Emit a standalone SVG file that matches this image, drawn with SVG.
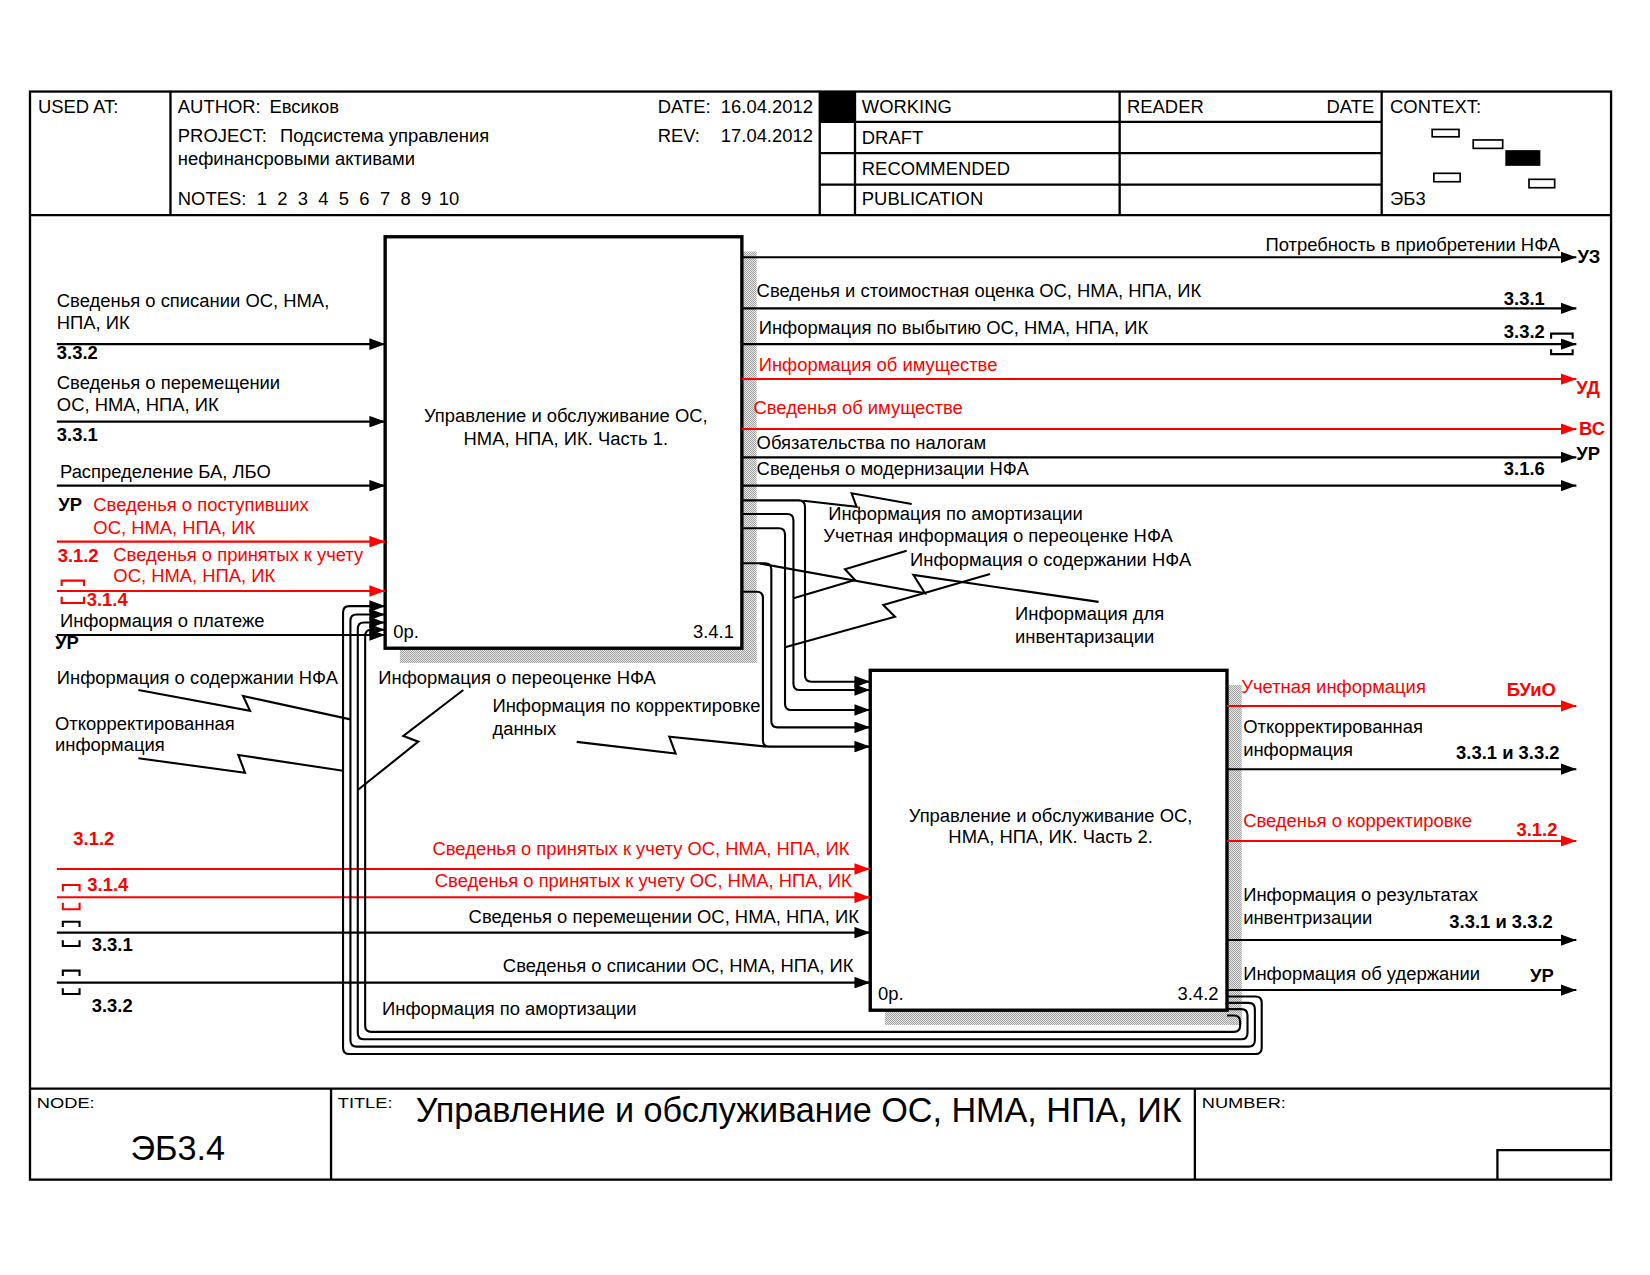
<svg xmlns="http://www.w3.org/2000/svg" width="1650" height="1275" viewBox="0 0 1650 1275">
<style>
.t{font-family:"Liberation Sans",Arial,sans-serif;font-size:17.5px;fill:#000}
.r{fill:#f00}
.b{font-weight:bold}
.e{text-anchor:end}
.m{text-anchor:middle}
.ln{fill:none;stroke:#000;stroke-width:2}
.lr{fill:none;stroke:#f00;stroke-width:2}
.fr{fill:none;stroke:#000;stroke-width:2.2}
.bx{fill:#fff;stroke:#000;stroke-width:3.2}
.sh{fill:url(#sh)}
.ma{marker-end:url(#ab)}
.mr{marker-end:url(#ar)}
.sm{font-family:"Liberation Sans",Arial,sans-serif;font-size:14px;fill:#000}
</style>
<defs>
<marker id="ab" viewBox="0 0 15 11" refX="15" refY="5.5" markerWidth="15" markerHeight="11" markerUnits="userSpaceOnUse" orient="auto"><path d="M0,0L15,5.5L0,11z" fill="#000"/></marker>
<marker id="ar" viewBox="0 0 15 11" refX="15" refY="5.5" markerWidth="15" markerHeight="11" markerUnits="userSpaceOnUse" orient="auto"><path d="M0,0L15,5.5L0,11z" fill="#f00"/></marker>
<pattern id="sh" width="2" height="2" patternUnits="userSpaceOnUse" patternTransform="scale(0.9503)"><rect width="2" height="2" fill="#fff"/><rect width="1" height="1" fill="#888"/><rect x="1" y="1" width="1" height="1" fill="#888"/></pattern>
</defs>
<rect width="1650" height="1275" fill="#fff"/>
<g transform="scale(1.0523)">
<g id="frame">
<rect class="fr" x="28.5" y="87" width="1502.5" height="1034"/>
<path class="fr" d="M28.5,204.5H1531M162,87V204.5M779,87V204.5M812.5,87V204.5M1064,87V204.5M1313,87V204.5M779,115.8H1313M779,145.5H1313M779,175.5H1313"/>
<rect x="779" y="87" width="33.5" height="28.8" fill="#000"/>
<path class="fr" d="M28.5,1034.5H1531M314.6,1034.5V1121M1135.5,1034.5V1121M1423,1121V1093H1531"/>
<text class="t" x="36" y="107">USED AT:</text>
<text class="t" x="169" y="107">AUTHOR:</text>
<text class="t" x="256" y="107">Евсиков</text>
<text class="t" x="625" y="107">DATE:</text>
<text class="t" x="685" y="107">16.04.2012</text>
<text class="t" x="169" y="135">PROJECT:</text>
<text class="t" x="266" y="135">Подсистема управления</text>
<text class="t" x="169" y="157">нефинансровыми активами</text>
<text class="t" x="625" y="135">REV:</text>
<text class="t" x="685" y="135">17.04.2012</text>
<text class="t" x="169" y="195">NOTES:<tspan x="244">1</tspan><tspan x="263.5">2</tspan><tspan x="283">3</tspan><tspan x="302.5">4</tspan><tspan x="322">5</tspan><tspan x="341.5">6</tspan><tspan x="361">7</tspan><tspan x="380.5">8</tspan><tspan x="400">9</tspan><tspan x="417">10</tspan></text>
<text class="t" x="819" y="107">WORKING</text>
<text class="t" x="819" y="137">DRAFT</text>
<text class="t" x="819" y="166">RECOMMENDED</text>
<text class="t" x="819" y="195">PUBLICATION</text>
<text class="t" x="1071" y="107">READER</text>
<text class="t e" x="1306" y="107">DATE</text>
<text class="t" x="1321" y="107">CONTEXT:</text>
<text class="t" x="1321" y="195">ЭБ3</text>
<g fill="#fff" stroke="#000" stroke-width="1.6">
<rect x="1361" y="123" width="25.5" height="7"/>
<rect x="1400" y="133" width="28" height="8"/>
<rect x="1431.3" y="143.5" width="31.7" height="13.3" fill="#000"/>
<rect x="1362.6" y="164.7" width="25" height="8"/>
<rect x="1453" y="170.4" width="24.4" height="8"/>
</g>
<text class="sm" x="35" y="1053" textLength="55" lengthAdjust="spacingAndGlyphs">NODE:</text>
<text class="sm" x="321" y="1053" textLength="52" lengthAdjust="spacingAndGlyphs">TITLE:</text>
<text class="sm" x="1142" y="1053" textLength="80" lengthAdjust="spacingAndGlyphs">NUMBER:</text>
<text class="t" x="124" y="1102" style="font-size:32.5px">ЭБ3.4</text>
<text class="t" x="395" y="1066" style="font-size:32.5px" textLength="728">Управление и обслуживание ОС, НМА, НПА, ИК</text>
</g>
<g id="node-341">
<rect class="sh" x="705" y="239" width="14" height="391"/>
<rect class="sh" x="380" y="616" width="339" height="14"/>
<rect class="bx" x="366" y="225" width="339" height="391"/>
<text class="t m" x="537.7" y="400.7">Управление и обслуживание ОС,</text>
<text class="t m" x="537.7" y="422.9">НМА, НПА, ИК. Часть 1.</text>
<text class="t" x="373.8" y="606.6">0р.</text>
<text class="t e" x="697.5" y="606.6">3.4.1</text>
</g>
<g id="node-342">
<rect class="sh" x="1166" y="651" width="14" height="323"/>
<rect class="sh" x="841" y="960" width="339" height="14"/>
<rect class="bx" x="827" y="637" width="339" height="323"/>
<text class="t m" x="998.4" y="780.8">Управление и обслуживание ОС,</text>
<text class="t m" x="998.4" y="801.4">НМА, НПА, ИК. Часть 2.</text>
<text class="t" x="834.4" y="950.3">0р.</text>
<text class="t e" x="1158" y="950.3">3.4.2</text>
</g>
<g id="connectors">
<path class="ln ma" d="M54,327H366"/>
<path class="ln ma" d="M54,400.7H366"/>
<path class="ln ma" d="M54,461.5H366"/>
<path class="lr mr" d="M54,514.7H366"/>
<path class="lr mr" d="M54,561.6H366"/>
<path class="ln ma" d="M54,603.4H366"/>
<path class="lr" d="M58.6,556.9V551.8H79.8V556.9M58.6,567V573H79.8V567"/>
<path class="ln ma" d="M705,244.5H1498"/>
<path class="ln ma" d="M705,293H1498"/>
<path class="ln ma" d="M705,327H1498"/>
<path class="ln" d="M1474,322V317H1494.5V322M1474,332V336.5H1494.5V332"/>
<path class="lr mr" d="M705,360.2H1498"/>
<path class="lr mr" d="M705,407.7H1498"/>
<path class="ln ma" d="M705,434.6H1498"/>
<path class="ln ma" d="M705,461.5H1498"/>
<path class="ln ma" d="M705,475.5H759Q765,475.5 765,481.5V641.8Q765,647.8 771,647.8H827"/>
<path class="ln ma" d="M705,488.5H748Q754,488.5 754,494.5V649.7Q754,655.7 760,655.7H827"/>
<path class="ln ma" d="M705,502H740Q746,502 746,508V668.7Q746,674.7 752,674.7H827"/>
<path class="ln ma" d="M705,535.3H727Q733,535.3 733,541.3V685.2Q733,691.2 739,691.2H827"/>
<path class="ln ma" d="M705,562.3H719Q725,562.3 725,568.3V703.5Q725,709.5 731,709.5H827"/>
<path class="lr mr" d="M54,825.8H827"/>
<path class="lr mr" d="M54,852.7H827"/>
<path class="ln ma" d="M54,886.3H827"/>
<path class="ln ma" d="M54,933.8H827"/>
<path class="lr" d="M59.7,847V841H75.6V847M59.7,858V864H75.6V858"/>
<path class="ln" d="M59.7,881V876H75.6V881M59.7,893.5V899H75.6V893.5M59.7,927.5V922.4H75.6V927.5M59.7,939.2V944.6H75.6V939.2"/>
<path class="lr mr" d="M1166,670.9H1498"/>
<path class="ln ma" d="M1166,731H1498"/>
<path class="lr mr" d="M1166,799.2H1498"/>
<path class="ln ma" d="M1166,893.3H1498"/>
<path class="ln ma" d="M1166,940.8H1498"/>
<path class="ln ma" d="M1166,947H1193Q1199,947 1199,953V995.6Q1199,1001.6 1193,1001.6H332Q326,1001.6 326,995.6V582Q326,576 332,576H366"/>
<path class="ln ma" d="M1166,953H1186.5Q1192.5,953 1192.5,959V988.6Q1192.5,994.6 1186.5,994.6H339Q333,994.6 333,988.6V590Q333,584 339,584H366"/>
<path class="ln ma" d="M1166,959H1179.5Q1185.5,959 1185.5,965V981.6Q1185.5,987.6 1179.5,987.6H346Q340,987.6 340,981.6V597.5Q340,591.5 346,591.5H366"/>
<path class="ln ma" d="M1166,965H1172.5Q1178.5,965 1178.5,971V974.6Q1178.5,980.6 1172.5,980.6H353Q347,980.6 347,974.6V604.5Q347,598.5 353,598.5H366"/>
<path class="ln" d="M763.4,475.8L814,481.5L809.3,468.8L866.4,479"/>
<path class="ln" d="M861.6,523.3L803,541L812.5,551.2L754,568.6"/>
<path class="ln" d="M940.8,545.5L839.4,575L850.5,586L746,615"/>
<path class="ln" d="M722,535.5L879,563.8L868,546.4L1044,572"/>
<path class="ln" d="M548,705L642,716L636,700L728,709.5"/>
<path class="ln" d="M131.5,655.7L237.6,675.4L231,661.4L333,683.6"/>
<path class="ln" d="M131.5,720.6L232.8,734.3L226.5,717.5L326,732.4"/>
<path class="ln" d="M440.3,655.7L383.3,699.4L397.5,704.8L340,750.7"/>
</g>
<g id="labels">
<text class="t" x="54" y="292">Сведенья о списании ОС, НМА,</text>
<text class="t" x="54" y="313">НПА, ИК</text>
<text class="t b" x="54" y="341.5">3.3.2</text>
<text class="t" x="54" y="369.7">Сведенья о перемещении</text>
<text class="t" x="54" y="391">ОС, НМА, НПА, ИК</text>
<text class="t b" x="54" y="418.8">3.3.1</text>
<text class="t" x="57" y="454.6">Распределение БА, ЛБО</text>
<text class="t b" x="55.4" y="486">УР</text>
<text class="t r" x="88.7" y="486">Сведенья о поступивших</text>
<text class="t r" x="88.7" y="507">ОС, НМА, НПА, ИК</text>
<text class="t r b" x="54.8" y="533.8">3.1.2</text>
<text class="t r" x="107.7" y="532.8">Сведенья о принятых к учету</text>
<text class="t r" x="107.7" y="552.8">ОС, НМА, НПА, ИК</text>
<text class="t r b" x="82.4" y="576">3.1.4</text>
<text class="t" x="57" y="596">Информация о платеже</text>
<text class="t b" x="52.3" y="616.5">УР</text>
<text class="t" x="54" y="650">Информация о содержании НФА</text>
<text class="t" x="52.3" y="693.7">Откорректированная</text>
<text class="t" x="52.3" y="713.4">информация</text>
<text class="t" x="359.5" y="650">Информация о переоценке НФА</text>
<text class="t" x="468" y="677">Информация по корректировке</text>
<text class="t" x="468" y="698">данных</text>
<text class="t" x="363" y="964.5">Информация по амортизации</text>
<text class="t r b" x="69.7" y="803">3.1.2</text>
<text class="t r e" x="807.2" y="812.5">Сведенья о принятых к учету ОС, НМА, НПА, ИК</text>
<text class="t r b" x="83" y="846.4">3.1.4</text>
<text class="t r e" x="809.4" y="843.2">Сведенья о принятых к учету ОС, НМА, НПА, ИК</text>
<text class="t e" x="816.3" y="876.8">Сведенья о перемещении ОС, НМА, НПА, ИК</text>
<text class="t b" x="87.2" y="903.4">3.3.1</text>
<text class="t e" x="811" y="923.4">Сведенья о списании ОС, НМА, НПА, ИК</text>
<text class="t b" x="87.2" y="961.4">3.3.2</text>
<text class="t e" x="1482.5" y="239">Потребность в приобретении НФА</text>
<text class="t b" x="1499" y="250">УЗ</text>
<text class="t" x="719" y="282">Сведенья и стоимостная оценка ОС, НМА, НПА, ИК</text>
<text class="t b e" x="1468" y="289.8">3.3.1</text>
<text class="t" x="721" y="317.4">Информация по выбытию ОС, НМА, НПА, ИК</text>
<text class="t b e" x="1468" y="321.5">3.3.2</text>
<text class="t r" x="721" y="352.2">Информация об имуществе</text>
<text class="t r b" x="1498" y="374.4">УД</text>
<text class="t r" x="716" y="393.4">Сведенья об имуществе</text>
<text class="t r b" x="1500.6" y="413.4">ВС</text>
<text class="t" x="719" y="427">Обязательства по налогам</text>
<text class="t b" x="1498" y="437">УР</text>
<text class="t" x="719" y="451.4">Сведенья о модернизации НФА</text>
<text class="t b e" x="1468" y="451.4">3.1.6</text>
<text class="t" x="787" y="494">Информация по амортизации</text>
<text class="t" x="782.4" y="515">Учетная информация о переоценке НФА</text>
<text class="t" x="864.8" y="537.5">Информация о содержании НФА</text>
<text class="t" x="964.6" y="589.2">Информация для</text>
<text class="t" x="964.6" y="611.3">инвентаризации</text>
<text class="t r" x="1179.6" y="658.9">Учетная информация</text>
<text class="t r b e" x="1478.6" y="661.4">БУиО</text>
<text class="t" x="1181.4" y="696.3">Откорректированная</text>
<text class="t" x="1181.4" y="718.4">информация</text>
<text class="t b e" x="1482" y="721.6">3.3.1 и 3.3.2</text>
<text class="t r" x="1181.4" y="785.6">Сведенья о корректировке</text>
<text class="t r b e" x="1480" y="794.4">3.1.2</text>
<text class="t" x="1181.4" y="855.9">Информация о результатах</text>
<text class="t" x="1181.4" y="878">инвентризации</text>
<text class="t b e" x="1475.6" y="882.2">3.3.1 и 3.3.2</text>
<text class="t" x="1181.4" y="931.3">Информация об удержании</text>
<text class="t b e" x="1476.5" y="932.8">УР</text>
</g>
</g>
</svg>
